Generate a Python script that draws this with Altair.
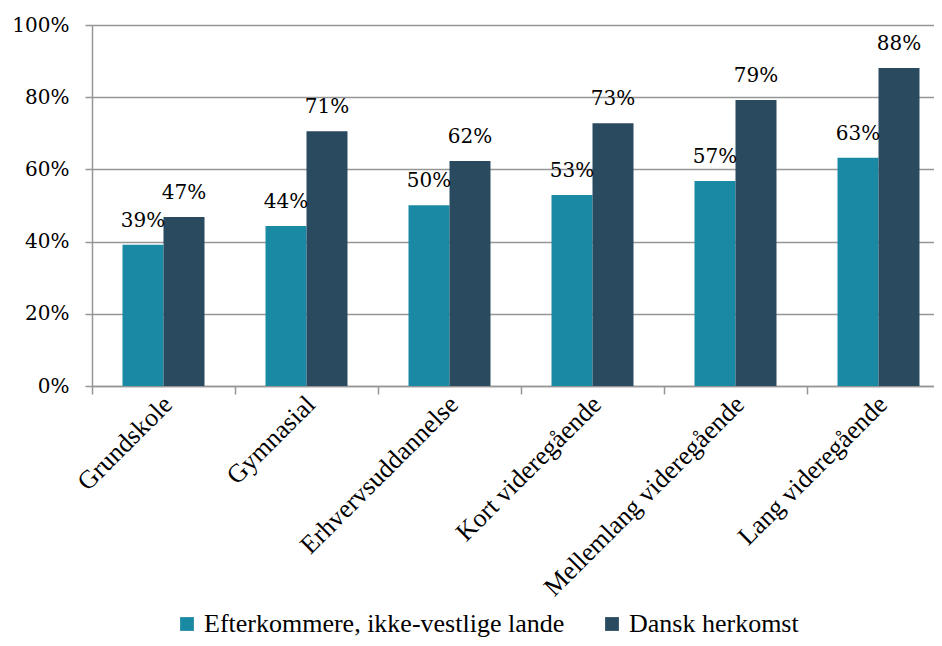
import altair as alt
import pandas as pd

categories = ["Grundskole", "Gymnasial", "Erhvervsuddannelse", "Kort videregående",
              "Mellemlang videregående", "Lang videregående"]
series = ["Efterkommere, ikke-vestlige lande", "Dansk herkomst"]
values_efter = [39.1, 44.3, 50.1, 52.9, 56.8, 63.2]
values_dansk = [46.8, 70.6, 62.3, 72.8, 79.2, 88.1]
labels_efter = ["39%", "44%", "50%", "53%", "57%", "63%"]
labels_dansk = ["47%", "71%", "62%", "73%", "79%", "88%"]
colors = ["#1A89A3", "#2A4A60"]

rows = []
for c, v, l in zip(categories, values_efter, labels_efter):
    rows.append({"cat": c, "series": series[0], "value": v / 100, "label": l})
for c, v, l in zip(categories, values_dansk, labels_dansk):
    rows.append({"cat": c, "series": series[1], "value": v / 100, "label": l})
df = pd.DataFrame(rows)

FONT = "Liberation Serif"
NUMFONT = "DejaVu Serif"
GRAY = "#969696"

x = alt.X("cat:N", sort=categories, title=None,
          scale=alt.Scale(paddingInner=0, paddingOuter=0, range=[0, 858]),
          axis=alt.Axis(labelAngle=-45, labelAlign="right", labelBaseline="middle",
                        tickBand="extent", tickSize=8, tickColor=GRAY, tickWidth=1.5,
                        domainColor=GRAY, domainWidth=1.5, labelFont=FONT,
                        labelFontSize=26, labelColor="#000000", labelPadding=6,
                        labelOffset=4, labelLimit=600))
xo = alt.XOffset("series:N", sort=series,
                 scale=alt.Scale(paddingInner=0, paddingOuter=0.744))
y = alt.Y("value:Q", title=None,
          scale=alt.Scale(domain=[0, 1], nice=False),
          axis=alt.Axis(format=".0%", values=[0, 0.2, 0.4, 0.6, 0.8, 1.0],
                        gridColor=GRAY, gridWidth=1.5, tickColor=GRAY, tickWidth=1.5,
                        tickSize=7, domainColor=GRAY, domainWidth=1.5,
                        labelFont=NUMFONT, labelFontSize=20, labelColor="#000000",
                        labelPadding=16))
color = alt.Color("series:N", sort=series, title=None,
                  scale=alt.Scale(domain=series, range=colors),
                  legend=alt.Legend(orient="none", legendX=82, legendY=586,
                                    direction="horizontal", symbolType="square",
                                    symbolSize=190, symbolStrokeWidth=0,
                                    labelFont=FONT, labelFontSize=26,
                                    labelColor="#000000", columnPadding=34,
                                    labelOffset=4, labelLimit=600))

bars = alt.Chart(df).mark_bar().encode(x=x, xOffset=xo, y=y, color=color)
text = alt.Chart(df).mark_text(font=NUMFONT, fontSize=20, baseline="alphabetic",
                               dy=-18, color="#000000").encode(
    x=x, xOffset=xo, y=y, text="label:N")

chart = (bars + text).properties(
    width=842, height=361,
    autosize=alt.AutoSizeParams(type="none"),
    padding={"left": 84, "top": 17, "right": 0, "bottom": 252},
).configure_view(stroke=None).configure(background="#ffffff", font=FONT)

chart.save("out.html", embed_options={"renderer": "svg", "actions": False})
